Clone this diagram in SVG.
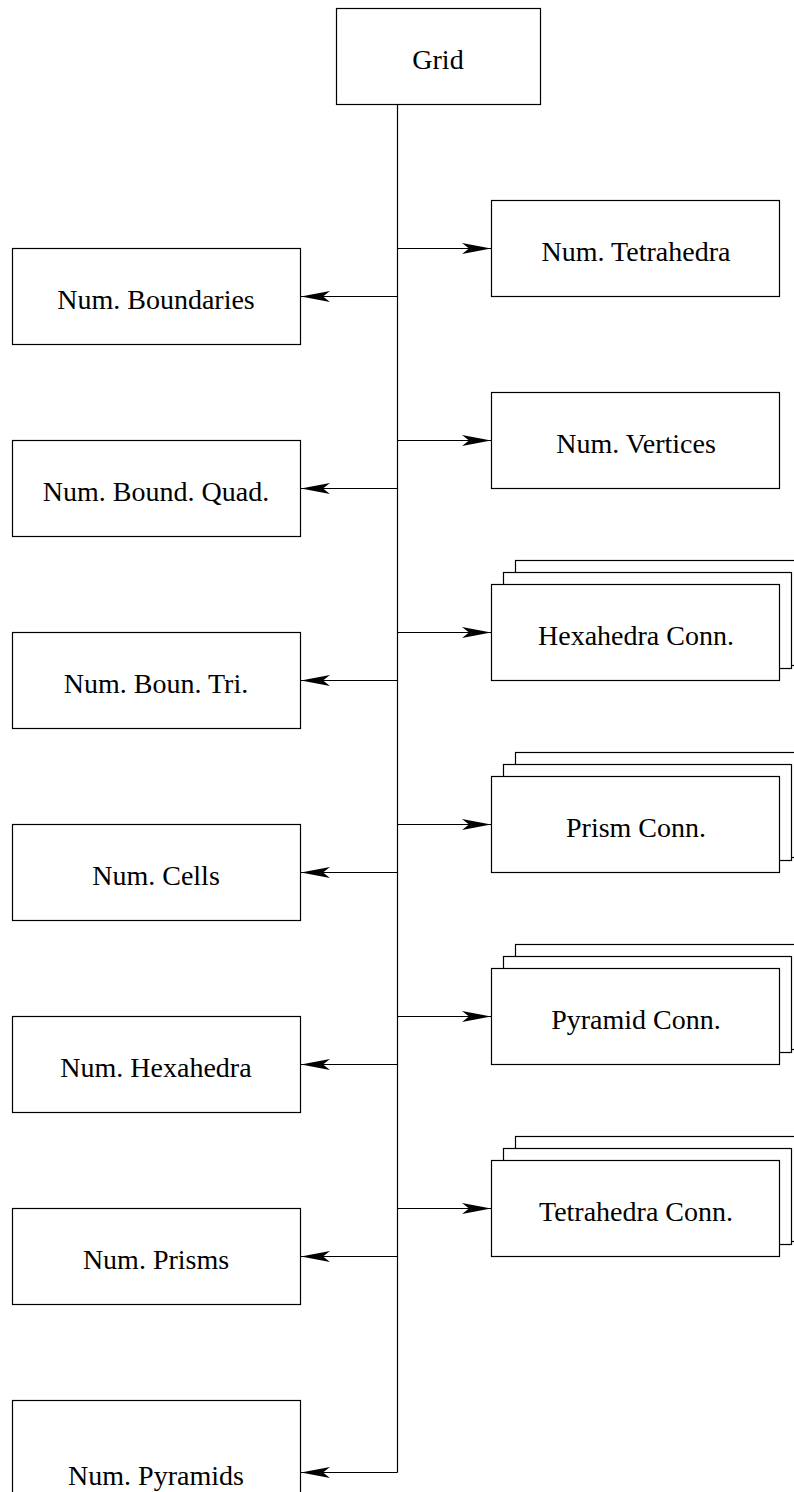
<svg xmlns="http://www.w3.org/2000/svg" width="794" height="1492" viewBox="0 0 794 1492">
<defs>
<style>
.box{fill:#fff;stroke:#000;stroke-width:1.2}
.lbl{font-family:"Liberation Serif","Times New Roman",serif;font-size:28px;fill:#000;text-anchor:middle}
.con{fill:none;stroke:#000;stroke-width:1.2}
</style>
<marker id="ah" markerUnits="userSpaceOnUse" markerWidth="32" markerHeight="16" refX="30" refY="8" orient="auto">
<path d="M30,8 L1,2.5 L8,8 L1,13.5 Z" fill="#000"/>
</marker>
</defs>
<rect width="794" height="1492" fill="#fff"/>
<g id="connectors">
<path class="con" d="M397.5,104 V1472.5"/>
<path class="con" d="M397.5,248.5 H491" marker-end="url(#ah)"/>
<path class="con" d="M397.5,440.5 H491" marker-end="url(#ah)"/>
<path class="con" d="M397.5,632.5 H491" marker-end="url(#ah)"/>
<path class="con" d="M397.5,824.5 H491" marker-end="url(#ah)"/>
<path class="con" d="M397.5,1016.5 H491" marker-end="url(#ah)"/>
<path class="con" d="M397.5,1208.5 H491" marker-end="url(#ah)"/>
<path class="con" d="M397.5,296.5 H301" marker-end="url(#ah)"/>
<path class="con" d="M397.5,488.5 H301" marker-end="url(#ah)"/>
<path class="con" d="M397.5,680.5 H301" marker-end="url(#ah)"/>
<path class="con" d="M397.5,872.5 H301" marker-end="url(#ah)"/>
<path class="con" d="M397.5,1064.5 H301" marker-end="url(#ah)"/>
<path class="con" d="M397.5,1256.5 H301" marker-end="url(#ah)"/>
<path class="con" d="M397.5,1472.5 H301" marker-end="url(#ah)"/>
</g>
<g id="grid"><rect class="box" x="336.5" y="8.5" width="204" height="96"/><text class="lbl" x="438" y="69">Grid</text></g>
<g id="num-tetrahedra"><rect class="box" x="491.5" y="200.5" width="288" height="96"/><text class="lbl" x="636" y="261">Num. Tetrahedra</text></g>
<g id="num-vertices"><rect class="box" x="491.5" y="392.5" width="288" height="96"/><text class="lbl" x="636" y="453">Num. Vertices</text></g>
<g id="hexahedra-conn">
<rect class="box" x="515.5" y="560.5" width="288" height="105"/>
<rect class="box" x="503.5" y="572.5" width="288" height="96"/>
<rect class="box" x="491.5" y="584.5" width="288" height="96"/>
<text class="lbl" x="636" y="645">Hexahedra Conn.</text></g>
<g id="prism-conn">
<rect class="box" x="515.5" y="752.5" width="288" height="105"/>
<rect class="box" x="503.5" y="764.5" width="288" height="96"/>
<rect class="box" x="491.5" y="776.5" width="288" height="96"/>
<text class="lbl" x="636" y="837">Prism Conn.</text></g>
<g id="pyramid-conn">
<rect class="box" x="515.5" y="944.5" width="288" height="105"/>
<rect class="box" x="503.5" y="956.5" width="288" height="96"/>
<rect class="box" x="491.5" y="968.5" width="288" height="96"/>
<text class="lbl" x="636" y="1029">Pyramid Conn.</text></g>
<g id="tetrahedra-conn">
<rect class="box" x="515.5" y="1136.5" width="288" height="105"/>
<rect class="box" x="503.5" y="1148.5" width="288" height="96"/>
<rect class="box" x="491.5" y="1160.5" width="288" height="96"/>
<text class="lbl" x="636" y="1221">Tetrahedra Conn.</text></g>
<g id="num-boundaries"><rect class="box" x="12.5" y="248.5" width="288" height="96"/><text class="lbl" x="156" y="309">Num. Boundaries</text></g>
<g id="num-bound-quad"><rect class="box" x="12.5" y="440.5" width="288" height="96"/><text class="lbl" x="156" y="501">Num. Bound. Quad.</text></g>
<g id="num-boun-tri"><rect class="box" x="12.5" y="632.5" width="288" height="96"/><text class="lbl" x="156" y="693">Num. Boun. Tri.</text></g>
<g id="num-cells"><rect class="box" x="12.5" y="824.5" width="288" height="96"/><text class="lbl" x="156" y="885">Num. Cells</text></g>
<g id="num-hexahedra"><rect class="box" x="12.5" y="1016.5" width="288" height="96"/><text class="lbl" x="156" y="1077">Num. Hexahedra</text></g>
<g id="num-prisms"><rect class="box" x="12.5" y="1208.5" width="288" height="96"/><text class="lbl" x="156" y="1269">Num. Prisms</text></g>
<g id="num-pyramids"><rect class="box" x="12.5" y="1400.5" width="288" height="96"/><text class="lbl" x="156" y="1485">Num. Pyramids</text></g>
</svg>
